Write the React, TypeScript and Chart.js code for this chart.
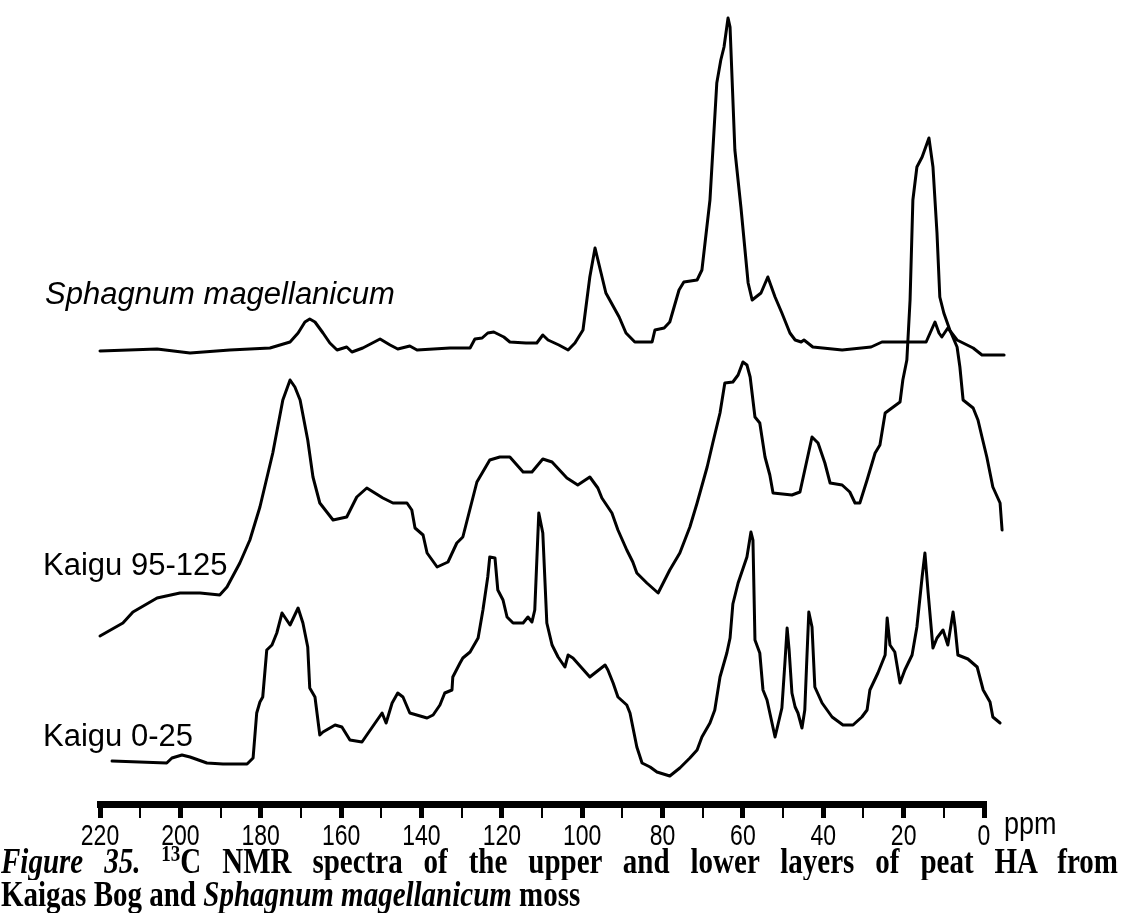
import React, { useEffect, useRef } from "react";
import { Chart, registerables } from "chart.js";

Chart.register(...registerables);

// [chemical shift (ppm), stacked intensity (a.u., offset per trace)]
const sphagnum: [number, number][] = [
  [220.0, 449], [205.8, 451], [197.6, 447], [187.7, 450], [177.7, 452], [172.7, 458],
  [170.7, 467], [169.0, 478], [167.8, 481], [166.5, 478], [164.5, 467], [162.8, 457],
  [161.0, 450], [158.6, 453], [157.3, 448], [154.6, 452], [150.3, 461], [147.8, 455],
  [145.9, 451], [142.9, 454], [141.1, 450], [132.9, 452], [127.9, 452], [126.7, 461],
  [124.9, 462], [123.5, 467], [122.0, 468], [119.5, 463], [118.0, 458], [114.0, 457],
  [111.3, 457], [109.8, 465], [108.5, 460], [105.8, 455], [103.5, 450], [101.8, 457],
  [99.8, 470], [98.1, 523], [96.8, 552], [95.3, 527], [94.1, 507], [90.8, 483],
  [89.1, 467], [86.9, 458], [82.6, 458], [81.9, 470], [79.6, 472], [78.2, 478],
  [75.9, 510], [74.7, 518], [71.4, 520], [70.2, 530], [68.2, 600], [66.5, 717],
  [65.5, 740], [64.7, 753], [63.7, 782], [63.2, 773], [62.0, 650], [60.5, 593],
  [58.7, 517], [57.7, 500], [55.5, 507], [53.8, 523], [52.0, 503], [50.3, 487],
  [48.3, 467], [47.0, 460], [45.5, 458], [44.8, 460], [42.6, 453], [35.3, 450],
  [28.1, 453], [25.4, 458], [19.9, 458], [14.4, 458], [12.2, 478], [11.2, 467],
  [10.5, 463], [9.0, 472], [6.7, 460], [2.7, 452], [0.5, 445], [-5.0, 445],
];

const kaigu95: [number, number][] = [
  [220.0, 164], [214.3, 177], [211.8, 188], [205.8, 202], [200.1, 207], [195.1, 207],
  [190.2, 205], [188.4, 213], [185.2, 237], [182.7, 260], [180.2, 293], [177.0, 347],
  [174.5, 400], [172.7, 420], [171.5, 413], [170.2, 400], [168.3, 360], [167.0, 323],
  [165.3, 297], [162.0, 280], [158.6, 283], [156.1, 303], [153.6, 312], [149.6, 302],
  [147.1, 297], [143.6, 297], [142.4, 290], [141.6, 272], [139.6, 265], [138.6, 247],
  [136.1, 233], [133.4, 238], [131.2, 257], [129.7, 263], [126.2, 318], [123.0, 340],
  [120.5, 343], [118.0, 343], [114.7, 328], [112.5, 328], [109.8, 341], [107.5, 338],
  [103.8, 322], [101.1, 315], [98.1, 323], [96.1, 312], [95.1, 302], [92.6, 287],
  [91.1, 270], [88.9, 250], [87.4, 238], [86.4, 227], [83.9, 217], [81.1, 207],
  [78.2, 230], [75.7, 247], [73.2, 273], [71.4, 297], [68.9, 333], [67.5, 357],
  [65.7, 387], [64.5, 417], [62.5, 418], [61.2, 425], [60.0, 438], [59.0, 435],
  [58.2, 423], [57.0, 383], [55.8, 377], [54.5, 343], [53.3, 325], [52.5, 307],
  [47.8, 305], [45.8, 308], [44.6, 330], [42.8, 363], [41.3, 357], [39.6, 337],
  [38.3, 317], [35.3, 315], [33.4, 308], [32.1, 297], [30.9, 297], [29.1, 320],
  [27.1, 347], [25.9, 355], [24.6, 387], [20.9, 398], [20.2, 420], [19.2, 440],
  [18.4, 500], [17.7, 600], [16.7, 633], [15.4, 643], [13.7, 662], [12.7, 633],
  [11.7, 567], [11.0, 503], [10.0, 487], [8.5, 470], [6.7, 453], [6.0, 433],
  [5.2, 400], [2.7, 392], [1.5, 380], [0.5, 363], [-0.7, 343], [-2.2, 313],
  [-4.0, 297], [-4.5, 270],
];

const kaigu0: [number, number][] = [
  [217.0, 39], [203.4, 37], [202.1, 42], [199.6, 45], [197.6, 43], [193.4, 37],
  [189.4, 36], [183.4, 36], [181.9, 42], [181.0, 87], [180.2, 98], [179.5, 103],
  [178.5, 150], [177.2, 155], [176.0, 167], [174.7, 187], [172.7, 175], [170.7, 192],
  [169.5, 177], [168.3, 153], [167.8, 112], [166.5, 103], [165.3, 65], [164.5, 68],
  [161.5, 75], [159.8, 73], [157.8, 60], [154.8, 58], [153.6, 65], [149.8, 87],
  [148.8, 77], [147.3, 97], [145.9, 107], [144.6, 103], [142.9, 87], [138.6, 82],
  [137.1, 85], [135.4, 95], [134.2, 107], [132.4, 110], [132.2, 123], [130.4, 137],
  [129.7, 142], [127.9, 148], [125.9, 162], [124.7, 190], [123.5, 223], [123.0, 243],
  [121.7, 242], [121.0, 210], [119.7, 200], [118.7, 183], [117.2, 177], [114.7, 177],
  [113.5, 183], [112.5, 178], [111.8, 190], [110.8, 287], [109.8, 267], [108.8, 177],
  [107.5, 155], [106.0, 143], [104.3, 133], [103.5, 145], [102.3, 142], [98.1, 123],
  [94.3, 135], [93.6, 130], [92.3, 117], [91.1, 103], [88.9, 95], [88.1, 87],
  [86.4, 53], [85.1, 37], [83.1, 33], [81.4, 28], [78.2, 24], [75.7, 32],
  [73.2, 42], [71.4, 50], [70.2, 63], [68.2, 77], [67.0, 90], [65.7, 123],
  [64.0, 147], [63.2, 162], [62.5, 196], [61.2, 217], [59.0, 243], [58.0, 268],
  [57.5, 260], [57.0, 160], [55.8, 147], [55.0, 110], [54.0, 100], [52.0, 63],
  [50.3, 92], [49.5, 140], [49.0, 172], [48.5, 150], [47.8, 107], [47.0, 93],
  [46.3, 87], [45.3, 72], [44.6, 90], [44.1, 140], [43.6, 188], [42.8, 173],
  [42.1, 113], [40.3, 97], [37.8, 83], [35.1, 75], [32.6, 75], [30.4, 83],
  [29.1, 90], [28.4, 110], [26.4, 127], [24.6, 145], [24.1, 182], [23.4, 155],
  [22.2, 148], [20.9, 117], [19.7, 130], [17.9, 145], [16.7, 173], [15.4, 223],
  [14.7, 247], [13.9, 207], [12.7, 152], [11.7, 162], [10.2, 170], [9.0, 155],
  [7.7, 188], [7.2, 173], [6.5, 145], [4.0, 141], [1.7, 133], [0.2, 110],
  [-1.5, 98], [-2.2, 83], [-4.0, 77],
];

const seriesNames = ["Sphagnum magellanicum", "Kaigu 95-125", "Kaigu 0-25"];
const xTickStep = 10;
const xMin = 0;
const xMax = 220;

const toPoints = (arr: [number, number][]) => arr.map(([x, y]) => ({ x, y }));

const labelBase: React.CSSProperties = {
  position: "absolute",
  fontFamily: "'Liberation Sans', Arial, sans-serif",
  fontSize: "31px",
  lineHeight: "31px",
  whiteSpace: "nowrap",
  color: "#000",
};

export default function App() {
  const ref = useRef<HTMLCanvasElement | null>(null);

  useEffect(() => {
    if (!ref.current) return;
    const line = (data: [number, number][]) => ({
      data: toPoints(data),
      borderColor: "#000",
      borderWidth: 3,
      pointRadius: 0,
      tension: 0,
      fill: false,
      clip: false as const,
      borderJoinStyle: "round" as const,
      borderCapStyle: "round" as const,
    });
    const chart = new Chart(ref.current, {
      type: "line",
      data: {
        datasets: [line(sphagnum), line(kaigu95), line(kaigu0)].map((d, i) => ({
          ...d,
          label: seriesNames[i],
        })),
      },
      options: {
        animation: false,
        responsive: false,
        events: [],
        layout: { padding: { left: 100, right: 139, top: 10, bottom: 6 } },
        plugins: { legend: { display: false }, tooltip: { enabled: false } },
        scales: {
          x: {
            type: "linear",
            reverse: true,
            min: xMin,
            max: xMax,
            afterFit: (s: any) => {
              s.height = 50;
              if (!s.__tallLabels) {
                s.__tallLabels = true;
                const orig = s.drawLabels;
                s.drawLabels = function (area: any) {
                  const ctx = this.ctx;
                  const y0 = this.top + 20;
                  ctx.save();
                  ctx.translate(0, y0);
                  ctx.scale(1, 1.25);
                  ctx.translate(0, -y0);
                  orig.call(this, area);
                  ctx.restore();
                };
              }
            },
            border: { display: true, color: "#000", width: 7 },
            grid: {
              display: true,
              drawOnChartArea: false,
              drawTicks: true,
              tickLength: 14,
              color: "#000",
              lineWidth: (ctx: any) =>
                ctx.tick && Math.round(ctx.tick.value) % 20 === 0 ? 5 : 2,
            },
            ticks: {
              stepSize: xTickStep,
              autoSkip: false,
              maxRotation: 0,
              padding: 3,
              color: "#000",
              font: { family: "'Liberation Sans', Arial, sans-serif", size: 23 },
              callback: (v: any) => (Math.round(v) % 20 === 0 ? String(v) : ""),
            },
          },
          y: { display: false, min: -4, max: 790 },
        },
      },
    });
    return () => chart.destroy();
  }, []);

  return (
    <div
      style={{
        position: "absolute",
        left: 0,
        top: 0,
        width: 1123,
        height: 915,
        overflow: "hidden",
        background: "#fff",
      }}
    >
      <canvas
        ref={ref}
        width={1123}
        height={860}
        style={{ position: "absolute", left: 0, top: 0, width: 1123, height: 860 }}
      />
      <div style={{ ...labelBase, left: 45, top: 278, fontStyle: "italic" }}>
        {seriesNames[0]}
      </div>
      <div style={{ ...labelBase, left: 43, top: 549 }}>{seriesNames[1]}</div>
      <div style={{ ...labelBase, left: 43, top: 720 }}>{seriesNames[2]}</div>
      <div
        style={{
          position: "absolute",
          left: 1004,
          top: 809,
          fontFamily: "'Liberation Sans', Arial, sans-serif",
          fontSize: "27px",
          lineHeight: "27px",
          transform: "scaleY(1.15)",
          transformOrigin: "0 0",
          color: "#000",
        }}
      >
        ppm
      </div>
      <div
        style={{
          position: "absolute",
          left: 1,
          top: 844,
          width: 1117,
          fontFamily: "'Liberation Serif', 'Times New Roman', serif",
          fontWeight: "bold",
          fontSize: "29px",
          lineHeight: "29px",
          textAlign: "justify",
          textAlignLast: "justify",
          transform: "scaleY(1.2)",
          transformOrigin: "0 0",
          color: "#000",
        }}
      >
        <i>Figure 35.</i>{" "}
        <span style={{ fontSize: "19px", position: "relative", top: "-10px" }}>13</span>C NMR
        spectra of the upper and lower layers of peat HA from
      </div>
      <div
        style={{
          position: "absolute",
          left: 1,
          top: 877,
          fontFamily: "'Liberation Serif', 'Times New Roman', serif",
          fontWeight: "bold",
          fontSize: "29px",
          lineHeight: "29px",
          whiteSpace: "nowrap",
          transform: "scaleY(1.2)",
          transformOrigin: "0 0",
          color: "#000",
        }}
      >
        Kaigas Bog and <i>Sphagnum magellanicum</i> moss
      </div>
    </div>
  );
}
